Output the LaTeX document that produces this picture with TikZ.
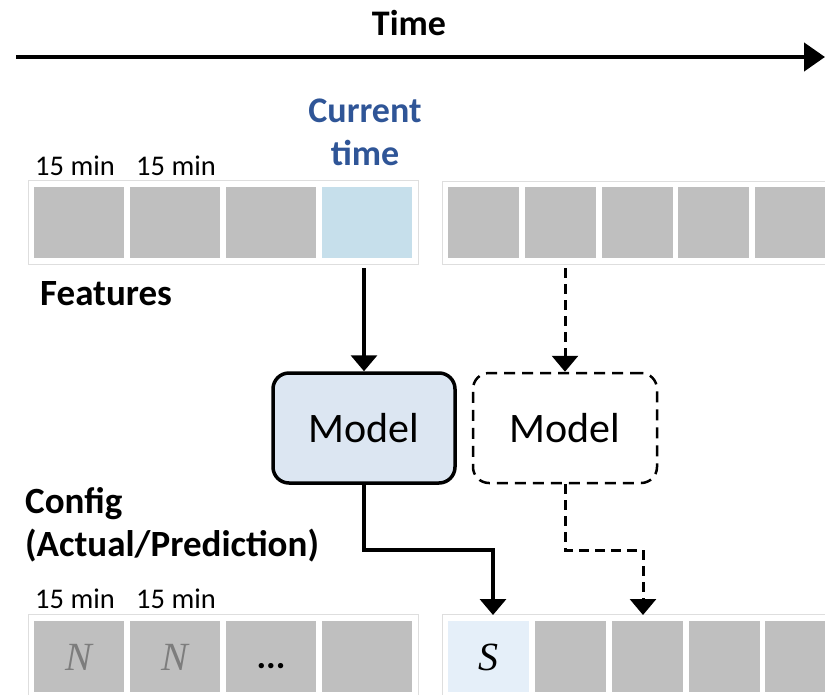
\documentclass[tikz,border=0pt]{standalone}
\usepackage{fontspec}
\setmainfont{Carlito}
\newfontfamily\serifitfont{Liberation Serif}
\usetikzlibrary{arrows.meta}
\definecolor{cellgray}{RGB}{191,191,191}
\definecolor{curblue}{RGB}{198,223,235}
\definecolor{sblue}{RGB}{229,239,249}
\definecolor{modelfill}{RGB}{220,230,242}
\definecolor{tblue}{RGB}{47,85,151}
\definecolor{ngray}{RGB}{125,125,125}
\begin{document}
\begin{tikzpicture}[x=1pt,y=-1pt,
  cellbox/.style={fill=cellgray,minimum width=#1,minimum height=71pt,inner sep=0pt,outer sep=0pt},
  cellbox/.default=90pt,
  framebox/.style={draw=black!13,line width=1pt},
  minlbl/.style={anchor=base west,inner sep=0pt,font=\fontsize{28.5}{32}\selectfont},
  biglbl/.style={inner sep=0pt,font=\fontsize{37}{43}\selectfont\bfseries},
  modelbox/.style={minimum width=182pt,minimum height=110pt,rounded corners=16pt,inner sep=0pt,font=\fontsize{42}{50}\selectfont},
  arr/.style={line width=3.5pt,-{Triangle[width=26pt,length=16pt]}},
  darr/.style={line width=3pt,dash pattern=on 10pt off 6pt,-{Triangle[width=26pt,length=16pt]}},
  celltext/.style={inner sep=0pt,anchor=base,font=\fontsize{40}{44}\selectfont\serifitfont\itshape}
]
\clip (0,0) rectangle (825,694);
% time axis
\node[biglbl,font=\fontsize{36}{43}\selectfont\bfseries] (time) at (409,23) {Time};
\coordinate (tl) at (16,57);
\coordinate (tr) at (825,57);
\draw[line width=4.5pt,-{Triangle[width=28pt,length=21pt]}] (tl) -- (tr);

% top-left strip
\draw[framebox] (28,180) rectangle (418,264);
\node[cellbox] (a1) at (79,222.5) {};
\node[cellbox] (a2) at (175,222.5) {};
\node[cellbox] (a3) at (271,222.5) {};
\node[cellbox,fill=curblue] (a4) at (367,222.5) {};
\node[minlbl] (m15a) at (35,175) {15 min};
\node[minlbl] (m15b) at (136,175) {15 min};
\node[biglbl,text=tblue,align=center,anchor=base,font=\fontsize{36}{43}\selectfont\bfseries] (cur) at (365,165) {Current\\time};

% top-right strip
\draw[framebox] (442,181) -- (840,181) (442,264) -- (840,264) (442,181) -- (442,264);
\node[cellbox=71pt] (b1) at (483.5,222.5) {};
\node[cellbox=71pt] (b2) at (560,222.5) {};
\node[cellbox=71pt] (b3) at (637,222.5) {};
\node[cellbox=71pt] (b4) at (713.5,222.5) {};
\node[cellbox=71pt] (b5) at (790.5,222.5) {};

\node[biglbl,anchor=base west] (feat) at (40,305) {Features};

% models
\node[modelbox,draw=black,line width=3.5pt,fill=modelfill] (m1) at (364,428) {Model};
\node[modelbox,draw=black,line width=2.5pt,dash pattern=on 11pt off 7pt,minimum width=184pt] (m2) at (565,428) {Model};

\draw[arr] (m1.north |- a4.south) ++(0,10) -- (m1.north);
\draw[darr] (m2.north |- b2.south) ++(0,10) -- (m2.north);

\node[biglbl,anchor=base west,align=left] (cfg) at (25,556) {Config\\(Actual/Prediction)};

% bottom-left strip
\draw[framebox] (28,614) rectangle (418,700);
\node[cellbox] (c1) at (79,656.5) {};
\node[cellbox] (c2) at (175,656.5) {};
\node[cellbox] (c3) at (271,656.5) {};
\node[cellbox] (c4) at (367,656.5) {};
\node[celltext,text=ngray] (n1) at (79,670) {N};
\node[celltext,text=ngray] (n2) at (175,670) {N};
\node[anchor=base,inner sep=0pt,font=\fontsize{36}{40}\selectfont\bfseries] (dots) at (271,668) {...};
\node[minlbl] (m15c) at (35,608) {15 min};
\node[minlbl] (m15d) at (136,608) {15 min};

% bottom-right strip
\draw[framebox] (442,614) -- (840,614) (442,614) -- (442,700);
\node[cellbox=81pt,fill=sblue] (s) at (488.5,656.5) {};
\node[celltext] (stxt) at (488.5,670) {S};
\node[cellbox=71pt] (d2) at (570.5,656.5) {};
\node[cellbox=71pt] (d3) at (647.5,656.5) {};
\node[cellbox=71pt] (d4) at (724,656.5) {};
\node[cellbox=71pt] (d5) at (800.5,656.5) {};

% output connectors
\coordinate (j1) at (493,550);
\coordinate (t1) at (493,615);
\coordinate (j2) at (643,550);
\coordinate (t2) at (643,615);
\draw[arr] (m1.south) |- (j1) -- (t1);
\draw[darr] (m2.south) |- (j2) -- (t2);
\end{tikzpicture}
\end{document}
